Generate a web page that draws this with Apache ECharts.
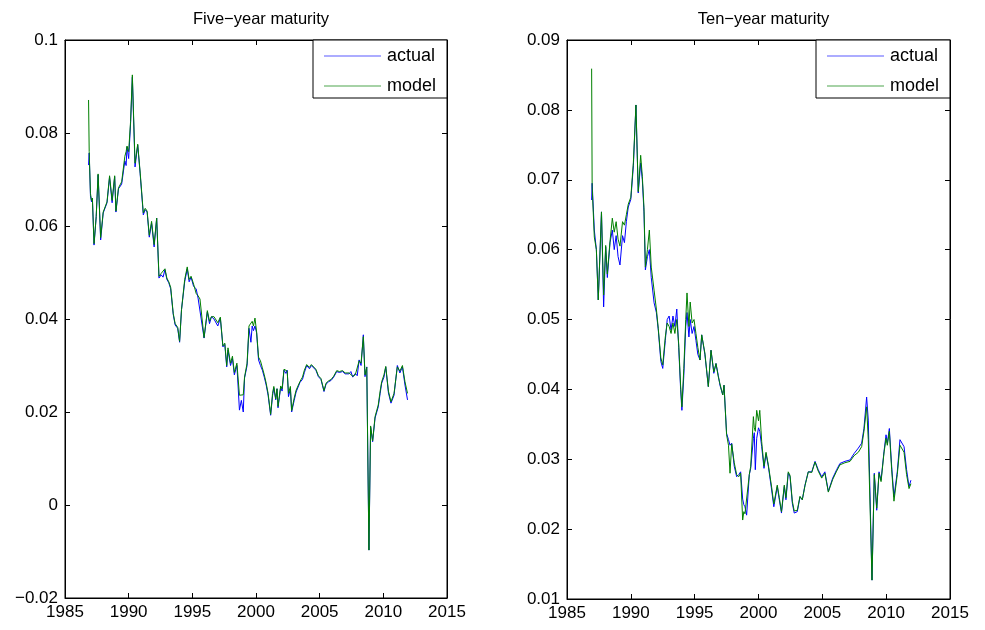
<!DOCTYPE html>
<html><head><meta charset="utf-8">
<script src="https://cdn.jsdelivr.net/npm/echarts@6/dist/echarts.min.js"></script>
<style>html,body{margin:0;padding:0;background:#fff}#c{width:985px;height:630px}</style>
</head><body><div id="c"></div>
<script>
const titles = ['Five\u2212year maturity', 'Ten\u2212year maturity'];
const seriesNames = ['actual', 'model'];
const xTicks = {min: 1985, max: 2015, interval: 5};
const yTicks5 = {min: -0.02, max: 0.1, interval: 0.02};
const yTicks10 = {min: 0.01, max: 0.09, interval: 0.01};

const years5 = [
1986.85,1986.9,1987.0,1987.08,1987.15,1987.28,1987.45,1987.6,1987.8,1988.0,
1988.15,1988.3,1988.5,1988.7,1988.9,1989.0,1989.2,1989.45,1989.7,1989.8,
1989.87,1990.0,1990.15,1990.29,1990.5,1990.71,1990.9,1991.0,1991.15,1991.3,
1991.45,1991.62,1991.8,1992.0,1992.2,1992.38,1992.55,1992.7,1992.85,1993.0,
1993.15,1993.3,1993.5,1993.65,1993.85,1994.0,1994.15,1994.4,1994.6,1994.75,
1994.9,1995.1,1995.3,1995.45,1995.6,1995.92,1996.18,1996.35,1996.5,1996.7,
1996.85,1997.0,1997.2,1997.4,1997.55,1997.7,1997.8,1998.0,1998.15,1998.3,
1998.5,1998.7,1998.85,1999.0,1999.1,1999.3,1999.45,1999.6,1999.7,1999.8,
1999.92,2000.05,2000.2,2000.35,2000.5,2000.65,2000.8,2000.95,2001.15,2001.3,
2001.4,2001.55,2001.65,2001.73,2001.94,2002.05,2002.2,2002.35,2002.45,2002.55,
2002.7,2002.8,2003.0,2003.15,2003.3,2003.46,2003.65,2003.8,2003.98,2004.2,
2004.35,2004.5,2004.7,2004.9,2005.1,2005.34,2005.5,2005.7,2005.9,2006.1,
2006.34,2006.55,2006.8,2007.0,2007.1,2007.3,2007.45,2007.6,2007.8,2007.95,
2008.1,2008.25,2008.43,2008.56,2008.7,2008.87,2009.0,2009.16,2009.35,2009.6,
2009.75,2009.87,2010.05,2010.19,2010.4,2010.6,2010.84,2011.1,2011.3,2011.5,
2011.7,2011.9];
const actual5 = [
.0731,.0757,.0665,.0652,.0660,.0559,.0620,.0710,.0570,.0628,
.0625,.0650,.0705,.0650,.0706,.0630,.0680,.0690,.0740,.0730,
.0770,.0745,.0820,.0920,.0727,.0774,.0713,.0710,.0624,.0635,
.0630,.0576,.0606,.0555,.0617,.0488,.0495,.0490,.0506,.0485,
.0478,.0465,.0410,.0387,.0380,.0350,.0420,.0480,.0508,.0480,
.0490,.0470,.0465,.0445,.0441,.0359,.0415,.0390,.0405,.0400,
.0400,.0385,.0402,.0340,.0345,.0297,.0333,.0300,.0315,.0280,
.0300,.0204,.0225,.0200,.0273,.0300,.0380,.0350,.0385,.0375,
.0385,.0370,.0312,.0300,.0290,.0275,.0258,.0236,.0193,.0235,
.0252,.0226,.0250,.0209,.0254,.0245,.0290,.0283,.0290,.0233,
.0250,.0200,.0225,.0243,.0240,.0264,.0270,.0285,.0300,.0293,
.0300,.0297,.0290,.0276,.0270,.0244,.0260,.0265,.0268,.0275,
.0287,.0285,.0287,.0282,.0286,.0282,.0287,.0275,.0283,.0278,
.0312,.0300,.0366,.0276,.0297,-.0097,.0168,.0136,.0187,.0211,
.0240,.0262,.0275,.0297,.0241,.0219,.0236,.0300,.0284,.0297,
.0258,.0226];
const model5 = [
.0871,.0760,.0670,.0655,.0660,.0562,.0620,.0712,.0575,.0630,
.0628,.0652,.0708,.0655,.0708,.0632,.0682,.0695,.0750,.0760,
.0772,.0760,.0825,.0925,.0735,.0776,.0716,.0712,.0628,.0638,
.0632,.0580,.0610,.0560,.0617,.0492,.0498,.0495,.0508,.0488,
.0480,.0468,.0412,.0390,.0382,.0352,.0420,.0485,.0512,.0485,
.0492,.0475,.0455,.0450,.0443,.0360,.0418,.0395,.0405,.0405,
.0408,.0392,.0404,.0342,.0348,.0300,.0338,.0305,.0320,.0285,
.0305,.0236,.0240,.0237,.0275,.0305,.0385,.0385,.0395,.0385,
.0402,.0372,.0318,.0310,.0295,.0280,.0262,.0240,.0195,.0240,
.0255,.0228,.0250,.0212,.0256,.0250,.0292,.0290,.0288,.0240,
.0255,.0203,.0230,.0247,.0245,.0266,.0275,.0290,.0302,.0296,
.0302,.0300,.0292,.0278,.0272,.0246,.0262,.0267,.0270,.0277,
.0289,.0287,.0289,.0284,.0288,.0284,.0288,.0277,.0280,.0282,
.0310,.0305,.0362,.0280,.0296,-.0097,.0170,.0138,.0190,.0215,
.0245,.0265,.0280,.0298,.0245,.0222,.0240,.0297,.0288,.0300,
.0265,.0240];

const years10 = [
1986.93,1986.97,1987.14,1987.3,1987.45,1987.7,1987.87,1988.03,1988.16,1988.37,
1988.55,1988.7,1988.85,1989.0,1989.15,1989.35,1989.5,1989.65,1989.8,1990.0,
1990.2,1990.4,1990.58,1990.77,1990.9,1991.03,1991.14,1991.3,1991.45,1991.6,
1991.82,1992.0,1992.15,1992.35,1992.5,1992.7,1992.85,1993.0,1993.15,1993.3,
1993.45,1993.6,1993.75,1993.9,1994.0,1994.15,1994.3,1994.4,1994.55,1994.65,
1994.8,1994.95,1995.1,1995.25,1995.42,1995.55,1995.8,1996.07,1996.28,1996.5,
1996.67,1996.85,1996.98,1997.2,1997.3,1997.5,1997.65,1997.77,1997.9,1998.1,
1998.29,1998.45,1998.6,1998.76,1998.85,1998.94,1999.07,1999.28,1999.39,1999.6,
1999.67,1999.75,1999.86,2000.0,2000.1,2000.25,2000.43,2000.59,2000.77,2001.03,
2001.2,2001.47,2001.63,2001.8,2002.02,2002.15,2002.33,2002.47,2002.65,2002.8,
2003.04,2003.25,2003.43,2003.64,2003.9,2004.17,2004.43,2004.68,2004.95,2005.2,
2005.47,2005.81,2006.12,2006.38,2006.77,2007.17,2007.48,2007.82,2008.08,2008.26,
2008.47,2008.6,2008.89,2009.07,2009.26,2009.44,2009.6,2009.83,2009.99,2010.09,
2010.25,2010.43,2010.61,2010.87,2011.08,2011.4,2011.6,2011.79,2011.94];
const actual10 = [
.0671,.0695,.0628,.0600,.0528,.0654,.0518,.0604,.0560,.0610,
.0628,.0600,.0620,.0590,.0578,.0620,.0610,.0640,.0661,.0672,
.0720,.0807,.0681,.0724,.0700,.0654,.0571,.0590,.0600,.0560,
.0524,.0510,.0485,.0440,.0430,.0470,.0500,.0505,.0485,.0505,
.0490,.0515,.0460,.0400,.0370,.0420,.0490,.0510,.0475,.0500,
.0480,.0490,.0470,.0450,.0442,.0478,.0450,.0404,.0456,.0423,
.0437,.0420,.0406,.0392,.0406,.0337,.0328,.0320,.0323,.0290,
.0275,.0278,.0282,.0243,.0235,.0232,.0220,.0278,.0287,.0330,
.0338,.0285,.0330,.0345,.0340,.0318,.0287,.0308,.0290,.0256,
.0232,.0261,.0242,.0223,.0261,.0242,.0280,.0275,.0237,.0223,
.0225,.0246,.0242,.0263,.0282,.0282,.0297,.0285,.0275,.0282,
.0254,.0273,.0285,.0294,.0297,.0299,.0308,.0316,.0323,.0344,
.0389,.0356,.0127,.0280,.0227,.0282,.0270,.0311,.0335,.0323,
.0344,.0290,.0246,.0282,.0328,.0318,.0285,.0261,.0270];
const model10 = [
.0859,.0690,.0618,.0600,.0528,.0654,.0535,.0606,.0565,.0612,
.0645,.0625,.0640,.0615,.0605,.0640,.0635,.0650,.0665,.0675,
.0725,.0807,.0683,.0735,.0705,.0660,.0575,.0600,.0628,.0575,
.0542,.0515,.0487,.0445,.0435,.0475,.0495,.0490,.0480,.0495,
.0480,.0500,.0465,.0405,.0375,.0430,.0500,.0538,.0490,.0525,
.0495,.0500,.0480,.0460,.0442,.0478,.0452,.0404,.0456,.0425,
.0437,.0418,.0408,.0392,.0406,.0335,.0320,.0280,.0322,.0295,
.0278,.0275,.0280,.0213,.0225,.0222,.0222,.0278,.0290,.0361,
.0345,.0340,.0370,.0355,.0370,.0325,.0290,.0310,.0292,.0260,
.0236,.0263,.0245,.0225,.0263,.0245,.0282,.0277,.0240,.0226,
.0227,.0247,.0242,.0262,.0282,.0281,.0296,.0283,.0273,.0280,
.0253,.0271,.0283,.0292,.0295,.0297,.0305,.0310,.0318,.0340,
.0375,.0328,.0127,.0278,.0230,.0280,.0268,.0309,.0330,.0320,
.0340,.0285,.0240,.0278,.0320,.0310,.0278,.0258,.0265];

const FONT = '"Liberation Sans", Arial, Helvetica, sans-serif';
const FS = 17;
const chart = echarts.init(document.getElementById('c'), null, {renderer: 'canvas'});

function fmtY(v) {
  const s = String(parseFloat(Number(v).toFixed(6)));
  return s.replace('-', '\u2212');
}
function xAx(g, pos) {
  return {
    type: 'value', gridIndex: g, position: pos, min: xTicks.min, max: xTicks.max, interval: xTicks.interval,
    axisLine: {show: true, onZero: false, lineStyle: {color: '#000', width: 1}},
    axisTick: {show: true, inside: true, length: 5, lineStyle: {color: '#000'}},
    axisLabel: {show: pos === 'bottom', color: '#000', fontSize: FS, fontFamily: FONT, margin: 6,
      showMinLabel: true, showMaxLabel: true, formatter: v => String(Math.round(v))},
    splitLine: {show: false}
  };
}
function yAx(g, pos, t) {
  return {
    type: 'value', gridIndex: g, position: pos, min: t.min, max: t.max, interval: t.interval,
    axisLine: {show: true, onZero: false, lineStyle: {color: '#000', width: 1}},
    axisTick: {show: true, inside: true, length: 5, lineStyle: {color: '#000'}},
    axisLabel: {show: pos === 'left', color: '#000', fontSize: FS, fontFamily: FONT, margin: 7, formatter: fmtY, showMinLabel: true, showMaxLabel: true},
    splitLine: {show: false}
  };
}
function pairs(xs, ys) { return xs.map((x, i) => [x, ys[i]]); }
function line(name, g, data, color) {
  return {
    name: name, type: 'line', xAxisIndex: g * 2, yAxisIndex: g * 2, data: data,
    symbol: 'none', showSymbol: false, smooth: false,
    lineStyle: {color: color, width: 1}, itemStyle: {color: color}, z: name === 'model' ? 3 : 2
  };
}
const grids = [
  {left: 65, top: 40, width: 382, height: 558},
  {left: 567, top: 40, width: 383, height: 559}
];
const legendColors = {actual: '#5a5aff', model: '#4ea64e'};
function legendFor(g) {
  return {
    left: grids[g].left + grids[g].width - 134 + 11, top: 47, orient: 'vertical',
    itemWidth: 57, itemHeight: 14, itemGap: 12, padding: 0,
    symbolKeepAspect: true,
    icon: 'path://M0,0L57,0L57,1L0,1Z',
    textStyle: {color: '#000', fontSize: 18, fontFamily: FONT, padding: [0, 0, 0, 1]},
    data: seriesNames.map(n => ({name: n, itemStyle: {color: legendColors[n]}})), z: 6, selectedMode: false
  };
}
const option = {
  animation: false,
  backgroundColor: '#fff',
  title: titles.map((t, g) => ({
    text: t, left: grids[g].left + grids[g].width / 2, top: 6, textAlign: 'center',
    textStyle: {color: '#000', fontSize: 16.5, fontWeight: 'normal', fontFamily: FONT}
  })),
  grid: grids.map(g => Object.assign({show: true, borderColor: '#000', borderWidth: 1, backgroundColor: '#fff'}, g)),
  xAxis: [xAx(0, 'bottom'), xAx(0, 'top'), xAx(1, 'bottom'), xAx(1, 'top')],
  yAxis: [yAx(0, 'left', yTicks5), yAx(0, 'right', yTicks5), yAx(1, 'left', yTicks10), yAx(1, 'right', yTicks10)],
  legend: [legendFor(0), legendFor(1)],
  graphic: grids.map(g => ({
    type: 'rect', z: 5, silent: true,
    shape: {x: g.left + g.width - 134, y: g.top, width: 134, height: 58},
    style: {fill: '#fff', stroke: '#000', lineWidth: 1}
  })),
  series: [
    line('actual', 0, pairs(years5, actual5), '#0000ff'),
    line('model', 0, pairs(years5, model5), '#008000'),
    line('actual', 1, pairs(years10, actual10), '#0000ff'),
    line('model', 1, pairs(years10, model10), '#008000')
  ]
};
chart.setOption(option);
</script></body></html>
